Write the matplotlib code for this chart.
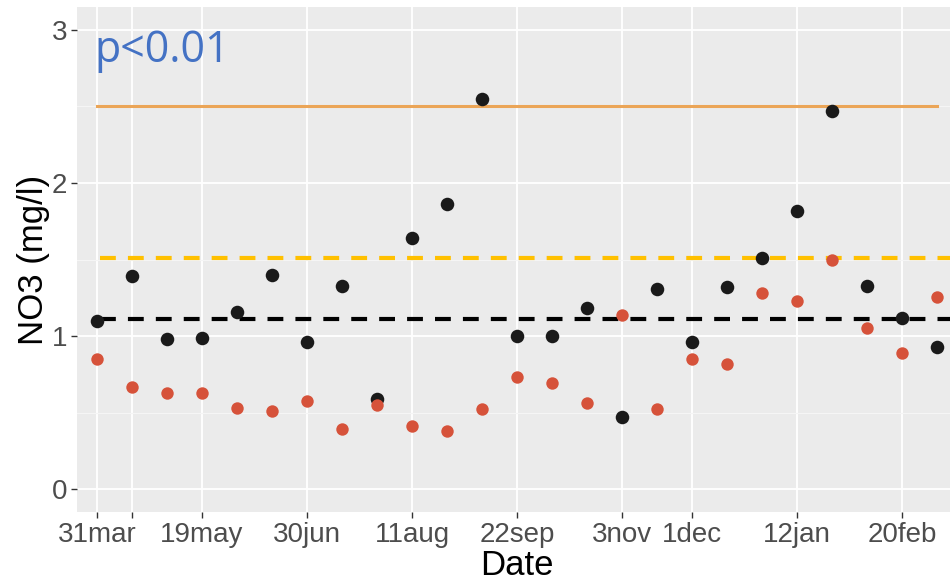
import matplotlib
matplotlib.use("Agg")
import matplotlib.pyplot as plt
import numpy as np

plt.rcParams['font.family'] = ['Liberation Sans', 'DejaVu Sans']

# sampling occasions (categorical x axis), labels shown on some of them
n_samples = 25
tick_idx = [0, 1, 3, 6, 9, 12, 15, 17, 20, 23]
tick_labels = ["31mar", "", "19may", "30jun", "11aug", "22sep", "3nov", "1dec", "12jan", "20feb"]

# NO3 values (mg/l)
black_vals = [1.10, 1.39, 0.98, 0.99, 1.16, 1.40, 0.96, 1.33, 0.59, 1.64,
              1.86, 2.55, 1.00, 1.00, 1.18, 0.47, 1.31, 0.96, 1.32, 1.51,
              1.82, 2.47, 1.33, 1.12, 0.93]
red_vals = [0.85, 0.67, 0.63, 0.63, 0.53, 0.51, 0.575, 0.39, 0.55, 0.41,
            0.38, 0.52, 0.73, 0.69, 0.56, 1.14, 0.52, 0.85, 0.82, 1.28,
            1.23, 1.50, 1.05, 0.89, 1.255]

# reference levels
limit_line = 2.5
yellow_mean = 1.51
black_mean = 1.11

x = np.arange(n_samples)

fig = plt.figure(figsize=(9.5, 5.8), dpi=100)
ax = fig.add_axes([77 / 950, 68 / 580, 873 / 950, 505 / 580])
ax.set_facecolor("#EBEBEB")

# grid
ax.set_yticks([0, 1, 2, 3])
ax.set_yticks([0.5, 1.5, 2.5], minor=True)
ax.grid(which="major", color="white", linewidth=1.3, zorder=0)
ax.grid(which="minor", axis="y", color="#F5F5F5", linewidth=0.8, zorder=0)
ax.set_axisbelow(True)

# reference lines
ax.plot([0, n_samples - 1], [limit_line, limit_line], color="#EBA557", linewidth=2.2, zorder=2)
ax.plot([0.08, n_samples + 1], [yellow_mean, yellow_mean], color="#FFC000",
        linewidth=3, linestyle=(0, (3.8, 2.9)), zorder=2)
ax.plot([0.08, n_samples + 1], [black_mean, black_mean], color="black",
        linewidth=3, linestyle=(0, (3.8, 2.9)), zorder=2)

# points
ax.scatter(x, black_vals, s=95, color="#1A1A1A", zorder=3, linewidths=0)
ax.scatter(x, red_vals, s=80, color="#D6523A", zorder=4, linewidths=0)

ax.text(-0.07, 2.79, "p<0.01", color="#4472C4", fontsize=31,
        family=['Open Sans', 'DejaVu Sans'], va="baseline", ha="left")

ax.set_xlim(-0.57, 24.37)
ax.set_ylim(-0.15, 3.15)
ax.set_xticks(tick_idx)
ax.set_xticklabels(tick_labels)

for side in ax.spines.values():
    side.set_visible(False)
ax.tick_params(axis="both", which="major", length=4, width=1, color="#333333",
               labelcolor="#4D4D4D", labelsize=20, pad=3)
ax.tick_params(axis="both", which="minor", length=0)

ax.set_xlabel("Date", fontsize=25, color="black")
ax.xaxis.set_label_coords((517 - 77) / 873, -0.073)
ax.set_ylabel("NO3 (mg/l)", fontsize=25, color="black")
ax.yaxis.set_label_coords(-0.031, 0.5)

fig.savefig("out.png", dpi=100)
